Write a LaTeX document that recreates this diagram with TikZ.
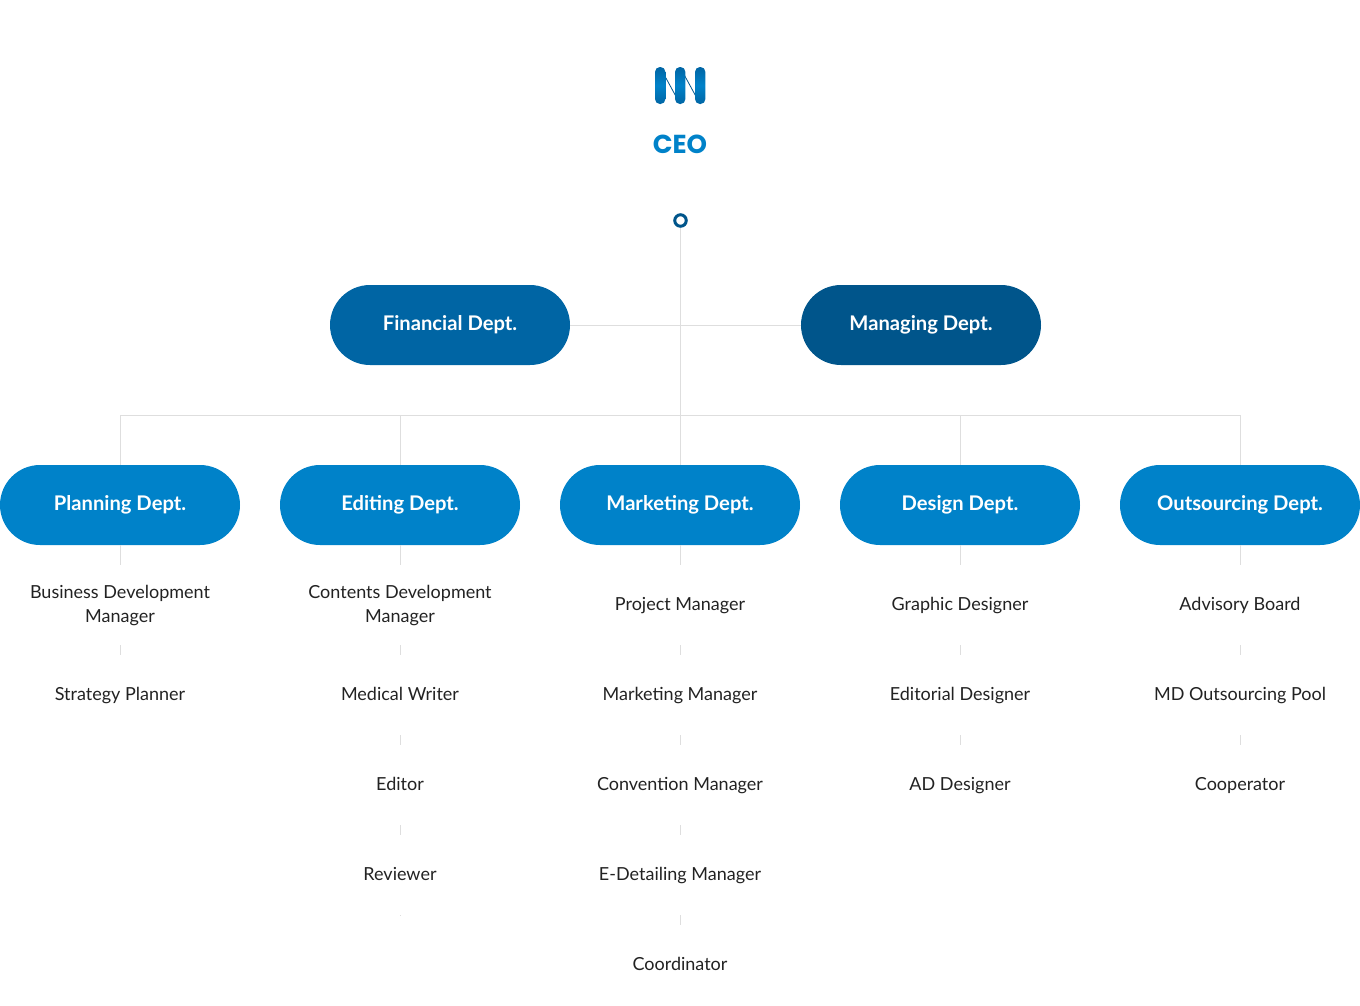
\documentclass[tikz,border=0pt]{standalone}
\usepackage{fontspec}
\setmainfont{Lato}
\newfontfamily\ceofont{Poppins}
\usetikzlibrary{shapes.misc,calc}
\definecolor{deptblue}{HTML}{0082C9}
\definecolor{finblue}{HTML}{0065A4}
\definecolor{mgblue}{HTML}{00558B}
\definecolor{linegray}{HTML}{DEDEDE}
\definecolor{jobtext}{HTML}{222222}
\tikzset{
  pill/.style={rounded rectangle,minimum width=240pt,minimum height=80pt,inner sep=0pt,text=white,text height=10pt,text depth=0pt,font=\fontsize{20.2}{24}\selectfont\bfseries},
  jobbase/.style={inner sep=0pt,align=center,text=jobtext,font=\fontsize{18}{24}\selectfont},
  job/.style={jobbase,text height=13pt,text depth=0pt},
  conn/.style={draw=linegray,line width=1pt},
}
\begin{document}
\begin{tikzpicture}[x=1pt,y=-1pt]
\useasboundingbox (0,0) rectangle (1360,1005);
% logo
\draw[mgblue,line width=0.8pt] (661,69) -- (679,102);
\draw[mgblue,line width=0.8pt] (681,69) -- (699,102);
\foreach \x in {655,675,695}
  \shade[top color=finblue,bottom color=finblue,middle color=deptblue,rounded corners=4.9pt] (\x,67) rectangle (\x+10.4,104);
\node (ceo) at (680,144) [inner sep=0pt,text=deptblue,font=\ceofont\fontsize{26}{28}\selectfont\bfseries] {CEO};
\node (dot) at (680.5,220.5) [circle,draw=mgblue,fill=white,line width=3pt,minimum size=11.5pt,inner sep=0pt] {};
% pills
\node[pill,fill=finblue] (fin) at (450,325) {Financial Dept.};
\node[pill,fill=mgblue] (mgr) at (921,325) {Managing Dept.};
\foreach \n/\x/\t in {plan/120/Planning Dept.,edit/400/Editing Dept.,mark/680/Marketing Dept.,desg/960/Design Dept.,outs/1240/Outsourcing Dept.}
  \node[pill,fill=deptblue] (\n) at (\x,505) {\t};
% connectors
\coordinate (hub) at (680.5,325.5);
\coordinate (busL) at (120.5,415.5);
\coordinate (busR) at (1240.5,415.5);
\draw[conn] (dot.south) -- (dot.south |- mark.north);
\draw[conn] (fin.east |- hub) -- (hub) -- (mgr.west |- hub);
\draw[conn] (busL |- plan.north) -- (busL) -- (busR) -- (busR |- outs.north);
\draw[conn] (400.5,415.5) coordinate (busE) -- (busE |- edit.north);
\draw[conn] (960.5,415.5) coordinate (busD) -- (busD |- desg.north);
% ticks below pills
\foreach \n/\x in {plan/120.5,edit/400.5,mark/680.5,desg/960.5,outs/1240.5}
  \draw[conn] (\x,545) coordinate (\n top) -- (\x,565) coordinate (\n bot);
\foreach \x/\y/\h in {120.5/645/10,400.5/645/10,400.5/735/10,400.5/825/10,400.5/915/1,680.5/645/10,680.5/735/10,680.5/825/10,680.5/915/10,960.5/645/10,960.5/735/10,1240.5/645/10,1240.5/735/10}
  \draw[conn] (\x,\y) coordinate (a\x\y) -- (\x,\y+\h) coordinate (b\x\y);
% jobs
\node[jobbase] (p1) at (120,606) {Business Development\\Manager};
\node[job] (p2) at (120,694) {Strategy Planner};
\node[jobbase] (e1) at (400,606) {Contents Development\\Manager};
\node[job] (e2) at (400,694) {Medical Writer};
\node[job] (e3) at (400,784) {Editor};
\node[job] (e4) at (400,874) {Reviewer};
\node[job] (m1) at (680,604) {Project Manager};
\node[job] (m2) at (680,694) {Marketing Manager};
\node[job] (m3) at (680,784) {Convention Manager};
\node[job] (m4) at (680,874) {E-Detailing Manager};
\node[job] (m5) at (680,964) {Coordinator};
\node[job] (d1) at (960,604) {Graphic Designer};
\node[job] (d2) at (960,694) {Editorial Designer};
\node[job] (d3) at (960,784) {AD Designer};
\node[job] (o1) at (1240,604) {Advisory Board};
\node[job] (o2) at (1240,694) {MD Outsourcing Pool};
\node[job] (o3) at (1240,784) {Cooperator};
\end{tikzpicture}
\end{document}
